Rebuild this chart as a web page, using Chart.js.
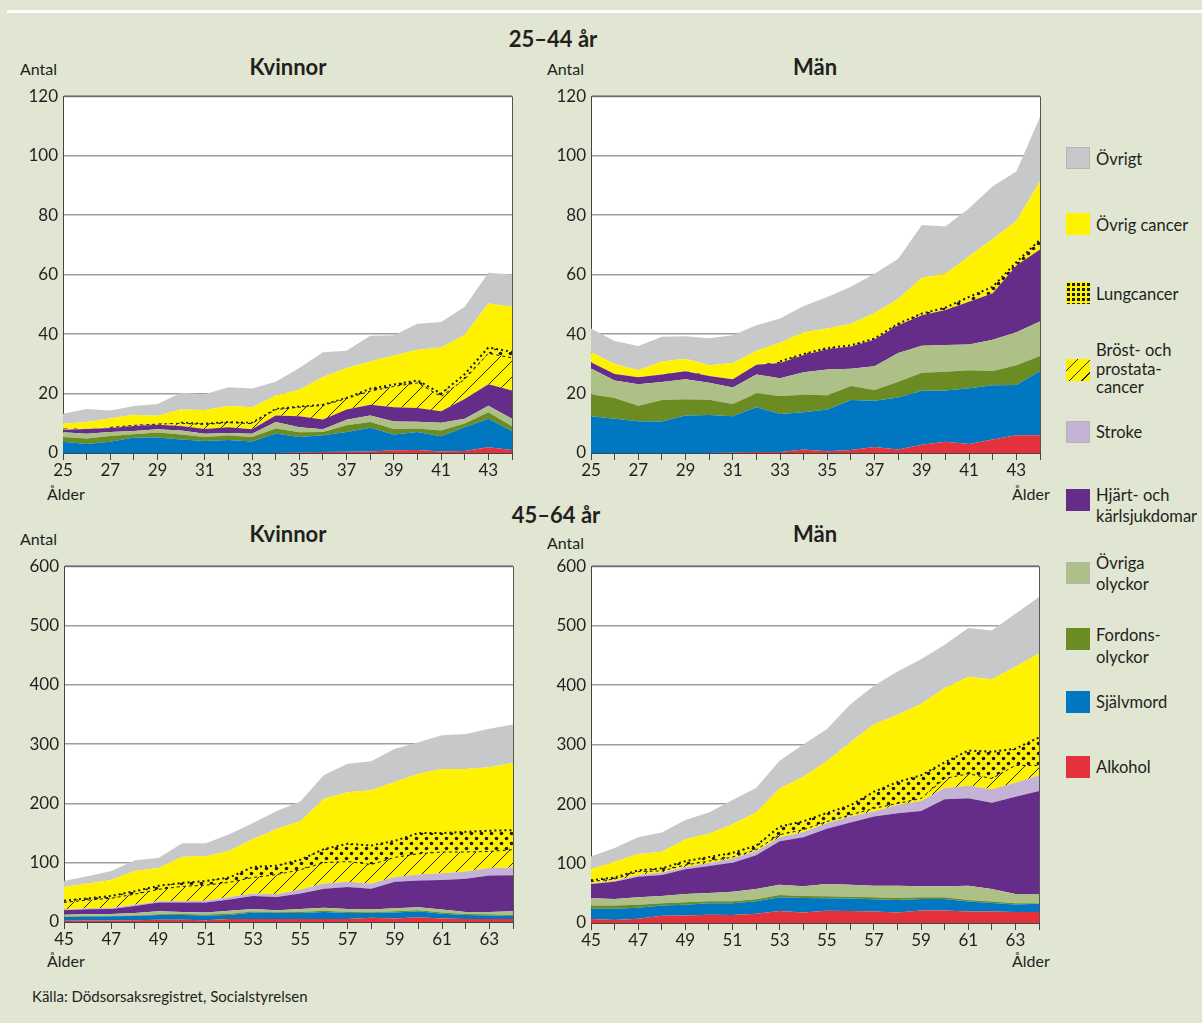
<!DOCTYPE html>
<html lang="sv">
<head>
<meta charset="utf-8">
<title>Dödsorsaker efter ålder och kön</title>
<script src="https://cdn.jsdelivr.net/npm/chart.js@4.4.1/dist/chart.umd.min.js"></script>
<style>
  html, body { margin: 0; padding: 0; }
  body {
    width: 1202px; height: 1023px; position: relative; overflow: hidden;
    background: #e1e6d2; color: #231f20;
    font-family: Lato, "Open Sans", "DejaVu Sans", sans-serif;
  }
  .topline { position: absolute; left: 7px; top: 10px; width: 1195px; height: 3px; background: #fff; }
  .t { position: absolute; white-space: nowrap; transform: translateY(-50%); }
  .c { position: absolute; white-space: nowrap; transform: translate(-50%, -50%); }
  .grp { font-weight: bold; font-size: 22px; }
  .title { font-weight: bold; font-size: 22px; }
  .small { font-size: 16px; }
  .box { position: absolute; }
  .sw { position: absolute; left: 1066px; width: 24px; height: 22px; box-sizing: border-box; }
  .lt { position: absolute; left: 1096px; font-size: 16.5px; line-height: 20px; white-space: nowrap; }
</style>
</head>
<body>
<div class="topline"></div>

<div class="c grp" style="left:553px; top:38px;">25–44 år</div>
<div class="c grp" style="left:556px; top:514px;">45–64 år</div>

<div class="c title" style="left:288px; top:66px;">Kvinnor</div>
<div class="c title" style="left:815px; top:66px;">Män</div>
<div class="c title" style="left:288px; top:533px;">Kvinnor</div>
<div class="c title" style="left:815px; top:533px;">Män</div>

<div class="t small" style="left:20px; top:68px;">Antal</div>
<div class="t small" style="left:547px; top:68px;">Antal</div>
<div class="t small" style="left:20px; top:538px;">Antal</div>
<div class="t small" style="left:547px; top:542px;">Antal</div>

<div class="t small" style="left:47px; top:493px;">Ålder</div>
<div class="t small" style="left:1012px; top:493px;">Ålder</div>
<div class="t small" style="left:47px; top:960px;">Ålder</div>
<div class="t small" style="left:1012px; top:960px;">Ålder</div>

<div class="t" style="left:32px; top:996px; font-size:15px;">Källa: Dödsorsaksregistret, Socialstyrelsen</div>

<div class="box" style="left:8px; top:81px;"><canvas id="kvinnor25" width="518" height="404"></canvas></div>
<div class="box" style="left:536px; top:81px;"><canvas id="man25" width="518" height="404"></canvas></div>
<div class="box" style="left:9px; top:551px;"><canvas id="kvinnor45" width="518" height="403"></canvas></div>
<div class="box" style="left:536px; top:551px;"><canvas id="man45" width="517" height="404"></canvas></div>

<div id="legend"></div>

<script>
// Åldrar (x-axel)
const aldrarUng = ['25','26','27','28','29','30','31','32','33','34','35','36','37','38','39','40','41','42','43','44'];
const aldrarAldre = ['45','46','47','48','49','50','51','52','53','54','55','56','57','58','59','60','61','62','63','64'];

// y-axelns skalsteg
const yTicksUng = [0, 20, 40, 60, 80, 100, 120];
const yTicksAldre = [0, 100, 200, 300, 400, 500, 600];

// Kvinnor 25–44 år
const kvinnor25Alkohol   = [0,0,0,0,0,0,0,0,0,0,0.2,0.3,0.4,0.5,0.9,1.0,0.5,0.7,1.9,1.0];
const kvinnor25Sjalvmord = [3.8,3.0,3.8,5.2,5.2,4.5,4.0,4.4,3.9,6.6,5.2,5.7,6.7,8.0,5.3,6.1,5.1,8.0,9.6,6.4];
const kvinnor25Fordon    = [1.6,1.9,1.9,1.1,1.7,1.7,1.4,1.5,1.5,1.6,1.6,1.1,2.2,1.9,1.9,1.1,2.0,1.2,2.2,1.6];
const kvinnor25Olyckor   = [1.6,1.6,1.4,1.1,1.1,1.4,1.1,0.8,1.1,2.2,1.7,0.9,1.9,2.2,2.5,2.3,2.6,1.6,2.2,2.5];
const kvinnor25Hjart     = [0.8,1.6,1.3,1.7,1.5,1.5,1.6,2.0,1.5,2.2,3.7,3.3,3.4,3.6,4.8,4.6,3.8,6.7,7.2,9.5];
const kvinnor25Stroke    = [0,0,0,0,0,0,0,0,0,0,0,0,0,0,0,0,0,0,0,0];
const kvinnor25Brost     = [0.2,0.1,0.2,0.2,0.2,0.9,1.5,1.5,1.9,2.0,3.0,4.7,3.7,4.6,7.0,8.5,5.0,6.6,10.4,11.0];
const kvinnor25Lung      = [0.2,0.1,0.1,0.1,0.1,0.2,0.2,0.2,0.2,0.2,0.2,0.2,0.2,0.8,0.6,0.8,1.0,1.7,2.0,2.0];
const kvinnor25Cancer    = [1.6,2.1,2.9,3.5,2.7,4.4,4.7,5.4,5.3,4.5,5.7,9.4,10.1,9.2,9.8,10.3,15.5,13.3,14.8,15.2];
const kvinnor25Ovrigt    = [3.4,4.4,2.7,2.9,4.0,5.7,5.3,6.3,6.3,4.7,7.3,8.3,5.8,8.6,6.8,8.8,8.6,9.4,10.3,10.8];

// Män 25–44 år
const man25Alkohol   = [0,0,0,0,0,0,0.2,0.3,0.3,1.2,0.6,1.0,2.0,1.2,2.8,3.8,3.0,4.5,6.0,6.0];
const man25Sjalvmord = [12.4,11.5,10.7,10.6,12.6,12.8,12.2,15.1,12.8,12.5,14.0,16.8,15.6,17.5,18.1,17.2,18.8,18.3,16.9,21.6];
const man25Fordon    = [7.4,7.0,5.2,7.2,5.5,5.1,4.1,4.7,6.1,5.9,4.8,4.7,3.6,5.3,6.1,6.3,6.0,4.8,6.6,5.0];
const man25Olyckor   = [8.6,5.9,7.2,6.1,6.7,5.7,5.5,6.3,5.9,7.6,8.7,5.8,8.0,9.6,9.1,9.0,8.7,10.5,11.1,11.6];
const man25Hjart     = [2.1,2.2,2.4,2.5,2.7,2.3,2.8,3.3,5.2,5.8,6.8,7.5,9.0,9.4,10.2,11.8,14.4,15.6,22.5,24.2];
const man25Stroke    = [0,0,0,0,0,0,0,0,0,0,0,0,0,0,0,0,0,0,0,0];
const man25Prostata  = [0,0,0,0,0,0,0,0,0,0,0,0,0,0,0,0,0,0,0,0];
const man25Lung      = [0,0,0,0,0.3,0,0,0,0.5,0.3,0.4,0.4,0.3,0.5,0.6,0.8,1.6,2.2,1.1,3.3];
const man25Cancer    = [3.4,3.3,2.3,4.4,3.9,3.6,5.5,4.7,6.3,7.3,6.6,7.3,8.6,8.3,12.0,11.4,13.7,16.1,13.8,19.7];
const man25Ovrigt    = [8.0,7.8,8.2,8.3,7.6,9.1,9.3,8.6,8.1,8.8,10.6,12.4,13.2,13.5,17.8,15.9,16.1,17.7,16.7,21.6];

// Kvinnor 45–64 år
const kvinnor45Alkohol   = [2.2,2.5,2.5,3,4,4,3,5,5,5,5,5,5,7,6,8,6,5,5,5];
const kvinnor45Sjalvmord = [6.1,6.5,7,7,8,8,8,7,11,10,10,12,10,8,10,10,8,7,6,5];
const kvinnor45Fordon    = [1.1,1,1,1,1,1.5,1.5,2,1.5,1.5,2,2,2,1.5,2,2,2,1.5,2,2];
const kvinnor45Olyckor   = [2.8,3,3,4,5,3.5,3.5,5,4.5,3.5,5,5,5,4.5,5,5,5,3.5,4,6];
const kvinnor45Hjart     = [7.8,8.5,8.5,12,15,16,17,19,22,22,26,32,37,35,45,45,50,56,61.6,61];
const kvinnor45Stroke    = [1,1.5,2,2,2,2,3,4,4,5,7,9,9,9,8,10,11,12,12.4,13];
const kvinnor45Brost     = [12,14,16,18,20,25,26,25,27,33,33,35,34,32,33,35,36,33,28,30];
const kvinnor45Lung      = [3,3,4,5,6,6,7,8,18,15,17,23,30,32,28,35,32,34,35,33];
const kvinnor45Cancer    = [23,25,27,34,30,44,42,45,47,62,65,85,87,93,99,100,108,106,107,113];
const kvinnor45Ovrigt    = [10,12,15,18,17,23,22,28,27,30,33,40,48,49,56,53,57,59,65,65];

// Män 45–64 år
const man45Alkohol   = [6.6,5,7.2,12.2,12.7,13.9,13.3,15.5,20,17.7,20.5,20,19.4,17.7,21,21,19.4,19.4,18.3,18.3];
const man45Sjalvmord = [17.2,18.8,18.3,17.2,17.8,19.3,19.9,21.1,23.2,24.4,21.1,21,20.5,21.1,19.4,19.5,16.6,14.4,12.7,13.9];
const man45Fordon    = [5.6,5.6,5,3.8,4.4,3.4,3.4,3.3,3.9,3.3,3.3,3.3,3.3,3.3,2.8,2.8,2.8,2.2,2.3,1.1];
const man45Olyckor   = [12.2,11,12.7,12.2,13.9,13.8,16,17.1,17.2,16.6,20.5,20,19.4,20.5,18.8,18.3,23.9,21,15.5,15.5];
const man45Hjart     = [23.8,28.9,34.4,35.5,41.5,45.4,48.8,57,73.1,82,93,104.7,116.4,121.9,126.4,146.4,146.9,145.4,163.6,173];
const man45Stroke    = [1.1,1.7,3.3,3.9,3.9,4.5,7.2,6.8,6.6,8.4,9.5,10,8.3,13.8,16.6,19,21.1,22.6,23.6,26.7];
const man45Prostata  = [3.3,2.7,5.5,2.7,3.3,3.7,2.2,2.2,4.5,4.4,2.7,2.7,5.5,2.7,4.4,16,20.3,18,29,16.5];
const man45Lung      = [2.2,2.8,2.2,4.5,6.5,7,7.2,7,13.5,14.2,14.4,16.3,28,36,39,27,39,45,28,47];
const man45Cancer    = [18.4,26.5,27.4,28,37,39,48,56,64,75,87,106,113,113,120,125,124,122,138,141];
const man45Ovrigt    = [21.6,23,28,32,32,36,41,41,47,54,54,64,65,73,75,73,82,82,89,95];

// Dödsorsaker nerifrån och upp
const orsaker = ['Alkohol', 'Självmord', 'Fordonsolyckor', 'Övriga olyckor', 'Hjärt- och kärlsjukdomar',
                 'Stroke', 'Bröst- och prostatacancer', 'Lungcancer', 'Övrig cancer', 'Övrigt'];

const gul = '#fff200';

function hatchPattern() {
    const s = 16;
    const c = document.createElement('canvas');
    c.width = s; c.height = s;
    const g = c.getContext('2d');
    g.fillStyle = gul;
    g.fillRect(0, 0, s, s);
    g.strokeStyle = '#2a2a2a';
    g.lineWidth = 1;
    g.beginPath();
    g.moveTo(-1, s + 1); g.lineTo(s + 1, -1);
    g.stroke();
    return g.createPattern(c, 'repeat');
}

function dotPattern() {
    const s = 10;
    const c = document.createElement('canvas');
    c.width = s; c.height = s;
    const g = c.getContext('2d');
    g.fillStyle = gul;
    g.fillRect(0, 0, s, s);
    g.fillStyle = '#1a1a1a';
    [[2.5, 2.5], [7.5, 7.5]].forEach(p => {
        g.beginPath();
        g.arc(p[0], p[1], 1.8, 0, Math.PI * 2);
        g.fill();
    });
    return g.createPattern(c, 'repeat');
}

const farger = ['#e3323b', '#0077c0', '#6b8c23', '#adc087', '#652d89', '#c4b3d5',
                hatchPattern(), dotPattern(), gul, '#c7c8ca'];

// vit plottyta och ram
const plotBg = {
    id: 'plotBg',
    beforeDraw(chart) {
        const a = chart.chartArea, ctx = chart.ctx;
        ctx.save();
        ctx.fillStyle = '#ffffff';
        ctx.fillRect(a.left, a.top, a.right - a.left, a.bottom - a.top);
        ctx.restore();
    },
    afterDraw(chart) {
        const a = chart.chartArea, ctx = chart.ctx;
        ctx.save();
        ctx.strokeStyle = '#555';
        ctx.lineWidth = 1;
        ctx.beginPath();
        ctx.moveTo(a.left, a.top + 0.5);
        ctx.lineTo(a.right + 0.5, a.top + 0.5);
        ctx.lineTo(a.right + 0.5, a.bottom);
        ctx.stroke();
        ctx.restore();
    }
};

function makePanel(id, labels, series, yTicks) {
    const datasets = series.map((values, i) => {
        const ds = {
            label: orsaker[i],
            data: values,
            backgroundColor: farger[i],
            borderColor: 'rgba(0,0,0,0)',
            borderWidth: 1,
            fill: i === 0 ? 'origin' : '-1',
            pointRadius: 0,
            tension: 0
        };
        if (i === 6 || i === 7) {
            ds.borderWidth = i === 7 ? 2 : 1;
            ds.borderDash = i === 7 ? [2, 3] : [3, 3];
            ds.segment = {
                borderColor: c => (values[c.p0DataIndex] > 0.15 && values[c.p1DataIndex] > 0.15) ? '#1a1a1a' : 'rgba(0,0,0,0)'
            };
        }
        return ds;
    });

    new Chart(document.getElementById(id), {
        type: 'line',
        data: { labels: labels, datasets: datasets },
        plugins: [plotBg],
        options: {
            responsive: false,
            animation: false,
            devicePixelRatio: 1,
            layout: { padding: { top: 12, right: 14, left: 0, bottom: 0 } },
            plugins: { legend: { display: false }, tooltip: { enabled: false } },
            elements: { line: { borderJoinStyle: 'round' } },
            scales: {
                x: {
                    type: 'category',
                    offset: false,
                    grid: { drawOnChartArea: false, drawTicks: true, tickLength: 7, color: '#444', offset: false },
                    border: { display: true, color: '#444', width: 1 },
                    ticks: {
                        autoSkip: false, maxRotation: 0, padding: 0,
                        color: '#231f20', font: { family: 'Lato', size: 17 },
                        callback: function (v) {
                            const lab = this.getLabelForValue(v);
                            return Number(lab) % 2 === 1 ? lab : '';
                        }
                    },
                    afterFit: s => { s.height = 32; }
                },
                y: {
                    stacked: true,
                    min: yTicks[0],
                    max: yTicks[yTicks.length - 1],
                    grid: { color: '#9d9d9d', lineWidth: 1.5, drawTicks: false },
                    border: { display: true, color: '#444', width: 1 },
                    ticks: {
                        stepSize: yTicks[1] - yTicks[0], padding: 5,
                        color: '#231f20', font: { family: 'Lato', size: 17 }
                    },
                    afterFit: s => { s.width = 55; }
                }
            }
        }
    });
}

makePanel('kvinnor25', aldrarUng,
    [kvinnor25Alkohol, kvinnor25Sjalvmord, kvinnor25Fordon, kvinnor25Olyckor, kvinnor25Hjart,
     kvinnor25Stroke, kvinnor25Brost, kvinnor25Lung, kvinnor25Cancer, kvinnor25Ovrigt], yTicksUng);
makePanel('man25', aldrarUng,
    [man25Alkohol, man25Sjalvmord, man25Fordon, man25Olyckor, man25Hjart,
     man25Stroke, man25Prostata, man25Lung, man25Cancer, man25Ovrigt], yTicksUng);
makePanel('kvinnor45', aldrarAldre,
    [kvinnor45Alkohol, kvinnor45Sjalvmord, kvinnor45Fordon, kvinnor45Olyckor, kvinnor45Hjart,
     kvinnor45Stroke, kvinnor45Brost, kvinnor45Lung, kvinnor45Cancer, kvinnor45Ovrigt], yTicksAldre);
makePanel('man45', aldrarAldre,
    [man45Alkohol, man45Sjalvmord, man45Fordon, man45Olyckor, man45Hjart,
     man45Stroke, man45Prostata, man45Lung, man45Cancer, man45Ovrigt], yTicksAldre);

// Teckenförklaring (uppifrån)
const legendRader = [
    { text: ['Övrigt'], farg: 9, top: 147, textTop: 149 },
    { text: ['Övrig cancer'], farg: 8, top: 213, textTop: 215 },
    { text: ['Lungcancer'], farg: 7, top: 282, textTop: 284 },
    { text: ['Bröst- och', 'prostata-', 'cancer'], farg: 6, top: 359, textTop: 341, lh: 18.5 },
    { text: ['Stroke'], farg: 5, top: 421, textTop: 422 },
    { text: ['Hjärt- och', 'kärlsjukdomar'], farg: 4, top: 489, textTop: 485, lh: 21 },
    { text: ['Övriga', 'olyckor'], farg: 3, top: 562, textTop: 553, lh: 21 },
    { text: ['Fordons-', 'olyckor'], farg: 2, top: 628, textTop: 624, lh: 22 },
    { text: ['Självmord'], farg: 1, top: 691, textTop: 692 },
    { text: ['Alkohol'], farg: 0, top: 756, textTop: 757 }
];

const cssFill = [
    '#e3323b', '#0077c0', '#6b8c23', '#adc087', '#652d89', '#c4b3d5',
    'repeating-linear-gradient(135deg, #fff200 0 8px, #2a2a2a 8px 9px)',
    'radial-gradient(circle, #1a1a1a 1.5px, transparent 1.9px) 0 0 / 5px 5px, #fff200',
    '#fff200', '#c7c8ca'
];

const legend = document.getElementById('legend');
legendRader.forEach(r => {
    const sw = document.createElement('div');
    sw.className = 'sw';
    sw.style.top = r.top + 'px';
    sw.style.background = cssFill[r.farg];
    if (r.farg === 9 || r.farg === 5 || r.farg === 3) sw.style.border = '1px solid #b5b5b5';
    legend.appendChild(sw);
    const lt = document.createElement('div');
    lt.className = 'lt';
    lt.style.top = r.textTop + 'px';
    if (r.lh) lt.style.lineHeight = r.lh + 'px';
    lt.innerHTML = r.text.join('<br>');
    legend.appendChild(lt);
});
</script>
</body>
</html>
